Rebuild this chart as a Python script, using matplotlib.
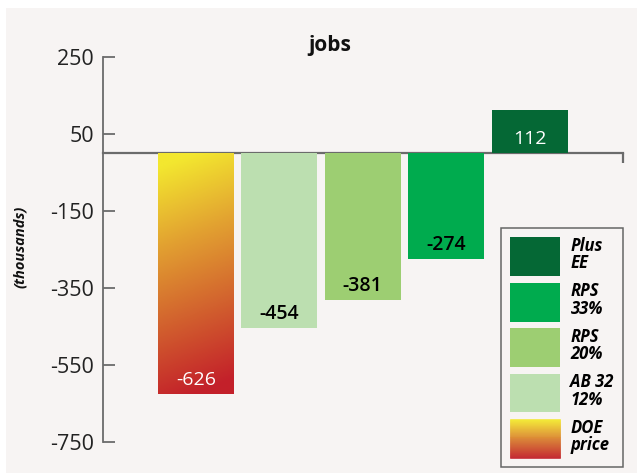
import numpy as np
import matplotlib
matplotlib.use("Agg")
import matplotlib.pyplot as plt
from matplotlib.colors import LinearSegmentedColormap
from matplotlib.patches import Rectangle, Patch
from matplotlib.legend_handler import HandlerBase

# ------------------------------------------------------------
# Data
# ------------------------------------------------------------
scenarios = ["DOE\nprice", "AB 32\n12%", "RPS\n20%", "RPS\n33%", "Plus\nEE"]
jobs = [-626, -454, -381, -274, 112]
bar_colors = [None, "#bcdfb0", "#9dce72", "#00ab4e", "#056835"]
text_colors = ["white", "black", "black", "black", "white"]
yticks = [250, 50, -150, -350, -550, -750]

BG = "#f7f4f3"
AXIS_C = "#6b6b6b"
grad_cmap = LinearSegmentedColormap.from_list(
    "doe", ["#c3202a", "#d2612e", "#e2a131", "#f3e72f"])

plt.rcParams["font.family"] = ["Open Sans", "DejaVu Sans"]

fig = plt.figure(figsize=(6.37, 4.74), dpi=100, facecolor="white")
fig.patches.append(Rectangle((6 / 637, 1 / 474), 1, 465 / 474,
                             transform=fig.transFigure, facecolor=BG,
                             edgecolor="none", zorder=-10))

ax = fig.add_axes([103 / 637, 32 / 474, 520 / 637, 385 / 474])
ax.set_facecolor("none")

x = np.arange(len(jobs))
width = 0.91
bars = ax.bar(x, jobs, width=width, color=[c if c else "none" for c in bar_colors],
              edgecolor="none", zorder=2)

# gradient fill for the DOE bar
gb = bars[0]
gx0 = gb.get_x()
grad = np.linspace(0, 1, 200)[:, None] + np.linspace(0.06, -0.06, 50)[None, :]
im = ax.imshow(np.clip(grad, 0, 1), cmap=grad_cmap, vmin=0, vmax=1, origin="lower",
               extent=(gx0, gx0 + gb.get_width(), jobs[0], 0), aspect="auto", zorder=2)
im.set_clip_path(gb)

# value labels
for xi, v, tc in zip(x, jobs, text_colors):
    off = 14 if v < 0 else -29
    ax.annotate(f"{v}", (xi, v), xytext=(0, off * 0.72), textcoords="offset points",
                ha="center", va="center", fontsize=14, color=tc,
                fontweight="semibold" if tc == "black" else "medium", zorder=3)

ax.set_xlim(-1.115, 4 + 1.12)
ax.set_ylim(-750, 250)
ax.set_yticks(yticks)
ax.set_yticklabels([str(t) for t in yticks])

for s in ["top", "right"]:
    ax.spines[s].set_visible(False)
ax.spines["left"].set_color(AXIS_C)
ax.spines["left"].set_linewidth(1.3)
ax.spines["bottom"].set_position(("data", 0))
ax.spines["bottom"].set_color(AXIS_C)
ax.spines["bottom"].set_linewidth(1.6)
ax.spines["bottom"].set_zorder(1)

ax.tick_params(axis="y", direction="in", length=8.5, width=1.3, color=AXIS_C,
               pad=6.5, labelsize=15.5, labelcolor="#222222")
ax.set_xticks([ax.get_xlim()[1] - 0.005])
ax.tick_params(axis="x", direction="out", length=7, width=1.6, color=AXIS_C,
               labelbottom=False)

fig.text(330 / 637, 1 - 45 / 474, "jobs", ha="center", va="center",
         fontsize=15, fontweight="bold", color="#111111")
fig.text(20 / 637, 1 - 247 / 474, "(thousands)", rotation=90, ha="center",
         va="center", fontsize=10.5, fontweight="bold", style="italic", color="#111111")


# ------------------------------------------------------------
# Legend (reversed order, gradient swatch for DOE)
# ------------------------------------------------------------
class GradientHandler(HandlerBase):
    def create_artists(self, legend, orig_handle, xdescent, ydescent,
                       width, height, fontsize, trans):
        n = 40
        arts = []
        for i in range(n):
            c = grad_cmap(i / (n - 1))
            arts.append(Rectangle((-xdescent, -ydescent + height * i / n), width,
                                  height / n, facecolor=c, edgecolor=c,
                                  linewidth=0.4, transform=trans))
        return arts


handles = []
for lab, c in zip(scenarios, bar_colors):
    handles.append(Patch(facecolor=c if c else "none", edgecolor="none", label=lab))
handles = handles[::-1]
hmap = {handles[-1]: GradientHandler()}

leg = ax.legend(handles=handles, handler_map=hmap, loc="lower right",
                bbox_to_anchor=(623 / 637, 7 / 474), bbox_transform=fig.transFigure,
                borderaxespad=0, handlelength=3.0, handleheight=3.2,
                labelspacing=0.37, handletextpad=0.6, borderpad=0.55,
                fancybox=False, framealpha=1, facecolor=BG, edgecolor="#666666",
                prop={"size": 12, "weight": "bold", "style": "italic"})
leg.get_frame().set_linewidth(1.1)
for t in leg.get_texts():
    t.set_linespacing(0.95)

fig.savefig("out.png", dpi=100, facecolor=fig.get_facecolor())
